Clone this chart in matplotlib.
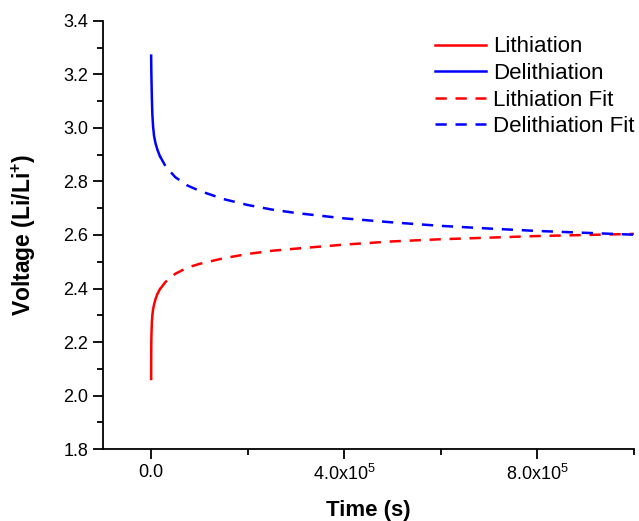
import matplotlib
matplotlib.use('Agg')
import matplotlib.pyplot as plt
import numpy as np
from matplotlib.ticker import MultipleLocator

plt.rcParams['font.family'] = ['Liberation Sans', 'DejaVu Sans']
plt.rcParams['mathtext.fontset'] = 'custom'
plt.rcParams['mathtext.rm'] = 'Liberation Sans'
plt.rcParams['mathtext.bf'] = 'Liberation Sans:bold'
plt.rcParams['mathtext.default'] = 'regular'

# measured data (time in s, voltage vs Li/Li+)
lith_t = [0, 100, 300, 800, 1500, 2500, 4000, 6000, 9000, 13000, 18000]
lith_v = [2.062, 2.150, 2.200, 2.240, 2.275, 2.300, 2.322, 2.340, 2.360, 2.380, 2.397]
delith_t = [0, 300, 800, 1500, 2500, 4000, 6000, 9000, 13000, 18000]
delith_v = [3.27, 3.22, 3.17, 3.11, 3.05, 3.005, 2.97, 2.943, 2.918, 2.895]

# fitted curves
fit_t = [18000, 30000, 50000, 75000, 100000, 150000, 200000, 250000, 300000,
         400000, 500000, 600000, 700000, 800000, 900000, 1000000]
lith_fit_v = [2.397, 2.425, 2.455, 2.478, 2.492, 2.513, 2.529, 2.541, 2.549,
              2.564, 2.576, 2.584, 2.590, 2.596, 2.600, 2.604]
delith_fit_v = [2.895, 2.856, 2.816, 2.785, 2.765, 2.734, 2.712, 2.695, 2.682,
                2.662, 2.647, 2.634, 2.624, 2.615, 2.608, 2.601]

fig = plt.figure(figsize=(6.39, 5.21), dpi=100)
ax = fig.add_axes([0.161, 0.138, 0.831, 0.822])

lw = 1.8
dash = (0, (4.5, 3.5))
ax.plot(lith_t, lith_v, color='red', lw=lw, label='Lithiation')
ax.plot(delith_t, delith_v, color='blue', lw=lw, label='Delithiation')
ax.plot(fit_t, lith_fit_v, color='red', lw=lw, ls=dash, label='Lithiation Fit')
ax.plot(fit_t, delith_fit_v, color='blue', lw=lw, ls=dash, label='Delithiation Fit')

ax.set_xlim(-1e5, 1e6)
ax.set_ylim(1.8, 3.4)
ax.set_xticks([0, 4e5, 8e5])
ax.set_xticklabels(['0.0', '4.0x10$^{5}$', '8.0x10$^{5}$'])
ax.xaxis.set_minor_locator(MultipleLocator(2e5))
ax.yaxis.set_major_locator(MultipleLocator(0.2))
ax.yaxis.set_minor_locator(MultipleLocator(0.1))
ax.yaxis.set_major_formatter(matplotlib.ticker.FormatStrFormatter('%.1f'))

ax.spines['top'].set_visible(False)
ax.spines['right'].set_visible(False)
for s in ['left', 'bottom']:
    ax.spines[s].set_linewidth(1.3)
ax.tick_params(which='major', direction='out', length=7, width=1.3, labelsize=13)
ax.tick_params(which='minor', direction='out', length=4, width=1.3)

ax.set_xlabel('Time (s)', fontsize=16, fontweight='bold', labelpad=12)
ax.set_ylabel('Voltage (Li/Li$^{+}$)', fontsize=16.5, fontweight='bold', labelpad=18)

ax.legend(loc='upper right', bbox_to_anchor=(1.03, 1.0), frameon=False, fontsize=16,
          handlelength=2.3, handletextpad=0.3, labelspacing=0.25, borderaxespad=0.3)

fig.savefig('out.png', dpi=100)
